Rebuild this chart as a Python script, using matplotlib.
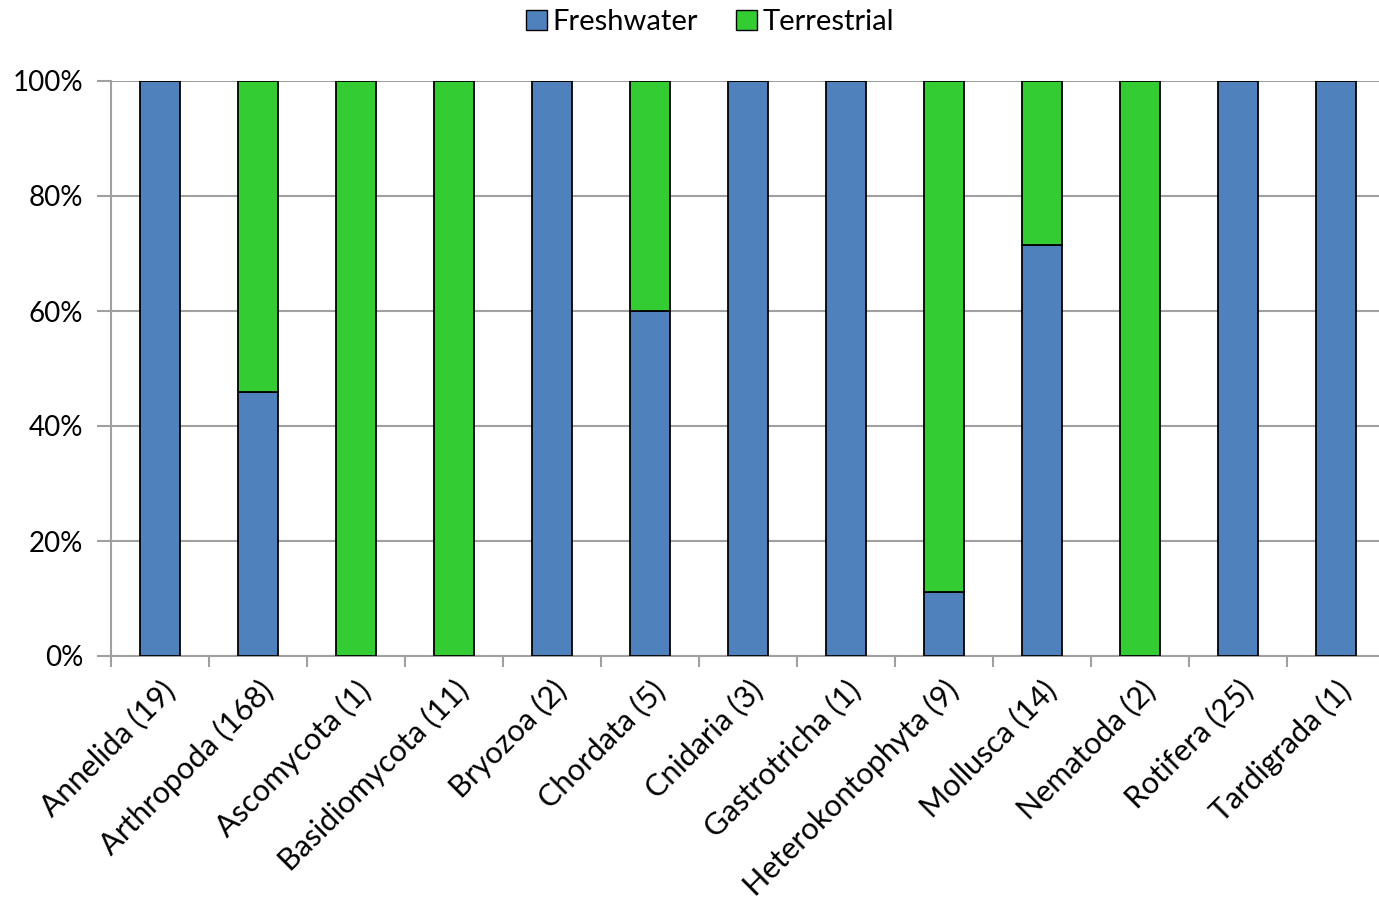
import numpy as np
import matplotlib.pyplot as plt
from matplotlib.patches import Patch

plt.rcParams['font.family'] = ['Lato', 'DejaVu Sans']

# phyla with number of records, split by habitat
phyla = ["Annelida", "Arthropoda", "Ascomycota", "Basidiomycota", "Bryozoa",
         "Chordata", "Cnidaria", "Gastrotricha", "Heterokontophyta", "Mollusca",
         "Nematoda", "Rotifera", "Tardigrada"]
freshwater = [19, 77, 0, 0, 2, 3, 3, 1, 1, 10, 0, 25, 1]
terrestrial = [0, 91, 1, 11, 0, 2, 0, 0, 8, 4, 2, 0, 0]

fw = np.array(freshwater, dtype=float)
tr = np.array(terrestrial, dtype=float)
total = fw + tr
fw_pct = fw / total * 100
tr_pct = tr / total * 100
labels = [f"{p} ({int(n)})" for p, n in zip(phyla, total)]

fig = plt.figure(figsize=(13.79, 9.01), dpi=100)
ax = fig.add_axes([111 / 1379, 245 / 901, 1274 / 1379, 575 / 901])

x = np.arange(len(phyla))
blue = "#4f81bd"
green = "#33cc33"
ax.bar(x, fw_pct, width=0.41, color=blue, edgecolor="black", linewidth=1.3, zorder=3)
ax.bar(x, tr_pct, width=0.41, bottom=fw_pct, color=green, edgecolor="black",
       linewidth=1.3, zorder=3)

ax.set_xlim(-0.5, len(phyla) - 0.5)
ax.set_ylim(0, 100)
ax.set_yticks(np.arange(0, 101, 20))
ax.set_yticklabels([f"{v}%" for v in range(0, 101, 20)])
ax.yaxis.grid(True, color="#a0a0a0", linewidth=1.5, zorder=0)
ax.set_axisbelow(True)

# ticks sit between categories, labels at centres
ax.set_xticks(np.arange(-0.5, len(phyla), 1.0))
ax.set_xticklabels([])
ax.set_xticks(x, minor=True)
ax.set_xticklabels(labels, minor=True, rotation=45, ha="right", va="top",
                   rotation_mode="anchor", fontsize=22)
ax.tick_params(axis="x", which="major", length=8, width=1.5, color="#a0a0a0")
ax.tick_params(axis="x", which="minor", length=0, pad=14)
ax.tick_params(axis="y", length=10, width=1.5, color="#a0a0a0", labelsize=20, pad=10)

for s in ["top", "right"]:
    ax.spines[s].set_visible(False)
for s in ["left", "bottom"]:
    ax.spines[s].set_color("#a0a0a0")
    ax.spines[s].set_linewidth(1.5)

handles = [Patch(facecolor=blue, edgecolor="black", label="Freshwater"),
           Patch(facecolor=green, edgecolor="black", label="Terrestrial")]
fig.legend(handles=handles, loc="upper center", bbox_to_anchor=(0.515, 1.019), ncol=2,
           frameon=False, fontsize=21, handlelength=0.7, handleheight=0.7,
           handletextpad=0.2, columnspacing=1.3)

fig.savefig("out.png", dpi=100)
